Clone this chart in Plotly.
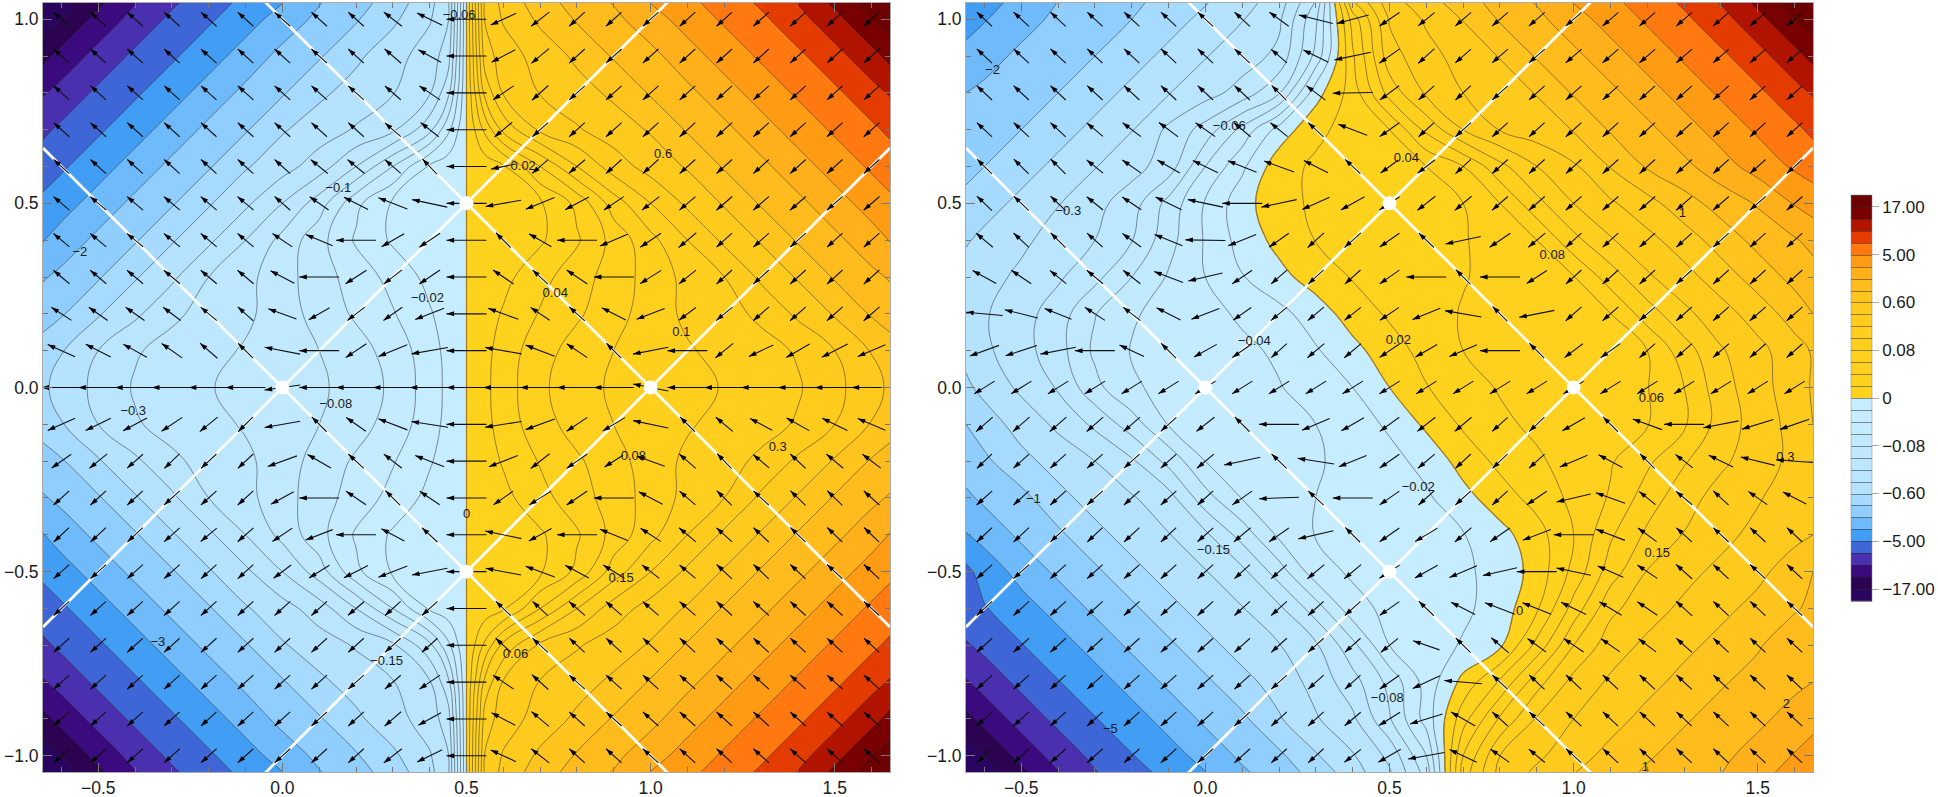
import math
import plotly.graph_objects as go

FONT = "Liberation Sans"
PX_PER_UNIT = 368.3

# ---------- contour grids: values are contour-level indices ----------
X1 = [-0.65,-0.6,-0.5,-0.4,-0.3,-0.2,-0.1,0,0.1,0.2,0.3,0.4,0.45,0.5,0.55,0.6,0.7,0.8,0.9,1.0,1.1,1.2,1.3,1.4,1.5,1.6,1.65]
X2 = [-0.65,-0.6,-0.5,-0.4,-0.3,-0.2,-0.1,0,0.1,0.2,0.3,0.4,0.5,0.6,0.7,0.8,0.9,1.0,1.1,1.2,1.3,1.4,1.5,1.6,1.65]
Y = [1.05,1.0,0.9,0.8,0.7,0.6,0.5,0.4,0.3,0.2,0.1,0,-0.1,-0.2,-0.3,-0.4,-0.5,-0.6,-0.7,-0.8,-0.9,-1.0,-1.05]

Z1 = [
[-16.95,-16.5,-15.3,-14.1,-13.2,-12.45,-11.8,-11.07,-10.1,-9.4,-8.6,-7.3,-6.25,0,6.25,7.3,8.6,9.4,10.1,11.07,11.8,12.45,13.2,14.1,15.3,16.5,16.95],
[-16.5,-16,-14.65,-13.65,-12.8,-12.15,-11.4,-10.6,-9.75,-9.1,-8.2,-7.1,-6.1,0,6.1,7.1,8.2,9.1,9.75,10.6,11.4,12.15,12.8,13.65,14.65,16,16.5],
[-15.3,-14.65,-13.65,-12.8,-12.15,-11.4,-10.6,-9.7,-9.1,-8.2,-7.4,-6.5,-5.5,0,5.5,6.5,7.4,8.2,9.1,9.7,10.6,11.4,12.15,12.8,13.65,14.65,15.3],
[-14.1,-13.65,-12.8,-12.15,-11.4,-10.6,-9.75,-9.1,-8.2,-7.6,-7.05,-6.1,-4.3,0,4.3,6.1,7.05,7.6,8.2,9.1,9.75,10.6,11.4,12.15,12.8,13.65,14.1],
[-13.2,-12.8,-12.15,-11.4,-10.6,-9.75,-9.1,-8.1,-7.5,-6.9,-6.2,-4.3,-2.25,0,2.25,4.3,6.2,6.9,7.5,8.1,9.1,9.75,10.6,11.4,12.15,12.8,13.2],
[-12.45,-12.15,-11.4,-10.6,-9.75,-9.1,-8.1,-7.4,-6.5,-5,-3,-0.85,-0.4,0,0.4,0.85,3,5,6.5,7.4,8.1,9.1,9.75,10.6,11.4,12.15,12.45],
[-11.8,-11.4,-10.6,-9.75,-9.1,-8.1,-7.2,-6,-4.5,-2.25,-0.85,-0.45,-0.2,0,0.2,0.45,0.85,2.25,4.5,6,7.2,8.1,9.1,9.75,10.6,11.4,11.8],
[-11.05,-10.6,-9.75,-9.1,-8.1,-7.2,-6,-4.7,-3.35,-1.87,-0.85,-0.43,-0.2,0,0.2,0.43,0.85,1.87,3.35,4.7,6,7.2,8.1,9.1,9.75,10.6,11.05],
[-10.1,-9.75,-9.1,-8.1,-7.2,-6,-5.3,-4.4,-3.45,-2.55,-1.67,-0.7,-0.36,0,0.36,0.7,1.67,2.55,3.45,4.4,5.3,6,7.2,8.1,9.1,9.75,10.1],
[-9.4,-9.1,-8.1,-7.2,-6.2,-5.65,-5.2,-4.5,-3.6,-2.85,-2.08,-1.1,-0.55,0,0.55,1.1,2.08,2.85,3.6,4.5,5.2,5.65,6.2,7.2,8.1,9.1,9.4],
[-8.6,-8.05,-7,-6.1,-5.65,-5.3,-4.9,-4.45,-4,-3.4,-2.6,-1.43,-0.7,0,0.7,1.43,2.6,3.4,4,4.45,4.9,5.3,5.65,6.1,7,8.05,8.6],
[-8.15,-7.7,-6.7,-5.9,-5.5,-5.05,-4.75,-4.45,-4.15,-3.6,-2.8,-1.5,-0.77,0,0.77,1.5,2.8,3.6,4.15,4.45,4.75,5.05,5.5,5.9,6.7,7.7,8.15],
[-8.6,-8.05,-7,-6.1,-5.65,-5.3,-4.9,-4.45,-4,-3.4,-2.6,-1.43,-0.7,0,0.7,1.43,2.6,3.4,4,4.45,4.9,5.3,5.65,6.1,7,8.05,8.6],
[-9.4,-9.1,-8.1,-7.2,-6.2,-5.65,-5.2,-4.5,-3.6,-2.85,-2.08,-1.1,-0.55,0,0.55,1.1,2.08,2.85,3.6,4.5,5.2,5.65,6.2,7.2,8.1,9.1,9.4],
[-10.1,-9.75,-9.1,-8.1,-7.2,-6,-5.3,-4.4,-3.45,-2.55,-1.67,-0.7,-0.36,0,0.36,0.7,1.67,2.55,3.45,4.4,5.3,6,7.2,8.1,9.1,9.75,10.1],
[-11.05,-10.6,-9.75,-9.1,-8.1,-7.2,-6,-4.7,-3.35,-1.87,-0.85,-0.43,-0.2,0,0.2,0.43,0.85,1.87,3.35,4.7,6,7.2,8.1,9.1,9.75,10.6,11.05],
[-11.8,-11.4,-10.6,-9.75,-9.1,-8.1,-7.2,-6,-4.5,-2.25,-0.85,-0.45,-0.2,0,0.2,0.45,0.85,2.25,4.5,6,7.2,8.1,9.1,9.75,10.6,11.4,11.8],
[-12.45,-12.15,-11.4,-10.6,-9.75,-9.1,-8.1,-7.4,-6.5,-5,-3,-0.85,-0.4,0,0.4,0.85,3,5,6.5,7.4,8.1,9.1,9.75,10.6,11.4,12.15,12.45],
[-13.2,-12.8,-12.15,-11.4,-10.6,-9.75,-9.1,-8.1,-7.5,-6.9,-6.2,-4.3,-2.25,0,2.25,4.3,6.2,6.9,7.5,8.1,9.1,9.75,10.6,11.4,12.15,12.8,13.2],
[-14.1,-13.65,-12.8,-12.15,-11.4,-10.6,-9.75,-9.1,-8.2,-7.6,-7.05,-6.1,-4.3,0,4.3,6.1,7.05,7.6,8.2,9.1,9.75,10.6,11.4,12.15,12.8,13.65,14.1],
[-15.3,-14.65,-13.65,-12.8,-12.15,-11.4,-10.6,-9.7,-9.1,-8.2,-7.4,-6.5,-5.5,0,5.5,6.5,7.4,8.2,9.1,9.7,10.6,11.4,12.15,12.8,13.65,14.65,15.3],
[-16.5,-16,-14.65,-13.65,-12.8,-12.15,-11.4,-10.6,-9.75,-9.1,-8.2,-7.1,-6.1,0,6.1,7.1,8.2,9.1,9.75,10.6,11.4,12.15,12.8,13.65,14.65,16,16.5],
[-16.95,-16.5,-15.3,-14.1,-13.2,-12.45,-11.8,-11.07,-10.1,-9.4,-8.6,-7.3,-6.25,0,6.25,7.3,8.6,9.4,10.1,11.07,11.8,12.45,13.2,14.1,15.3,16.5,16.95],
]

Z2 = [
[-11.8,-11.4,-10.7,-10,-9.6,-9.2,-8.7,-8.1,-7.4,-6.55,-4,4,6.65,7.6,8.6,9.4,10.1,11.07,11.8,12.45,13.2,14.1,15.3,16.5,16.95],
[-11.4,-11.07,-10.35,-9.8,-9.4,-9,-8.4,-7.75,-7.05,-6.2,-3.2,2.45,6.1,7.15,8.05,9.1,9.75,10.6,11.4,12.15,12.8,13.65,14.65,16,16.5],
[-10.7,-10.35,-9.8,-9.4,-9,-8.4,-7.75,-7.05,-6.5,-5.75,-2.7,1.85,5.6,6.65,7.4,8.05,9.1,9.75,10.6,11.4,12.15,12.8,13.65,14.65,15.3],
[-10,-9.8,-9.4,-9,-8.4,-7.75,-7.05,-6.4,-5.6,-4.1,-0.4,1.45,4.4,6.15,7,7.5,8.05,9.1,9.75,10.6,11.4,12.15,12.8,13.65,14.1],
[-9.6,-9.4,-9,-8.4,-7.75,-7.05,-5.8,-4.6,-2.7,-0.6,0.75,1.4,2,4.25,6,7.05,7.55,8.05,9.1,9.75,10.6,11.4,12.15,12.8,13.2],
[-9.3,-9,-8.4,-7.75,-7.05,-6.35,-5.55,-3,-1.2,0.6,1.18,1.45,1.7,2,3,4.7,6,6.85,8.05,9.1,9.75,10.6,11.4,12.15,12.45],
[-8.7,-8.4,-7.75,-7.05,-6.3,-5.5,-3.65,-1.9,-0.4,0.7,1.15,1.35,1.57,1.8,2,3,4.7,6,6.85,7.65,8.6,9.4,10.1,11.07,11.45],
[-8.1,-7.75,-7.2,-6.6,-6,-5.05,-3.35,-1.9,-0.6,0.3,1.03,1.26,1.48,1.7,1.93,2.4,3,4.7,5.9,6.7,7.5,8.45,9.3,9.9,10.3],
[-7.6,-7.35,-6.8,-6.15,-5.3,-4,-2.9,-2,-1.05,-0.3,0.45,1.07,1.36,1.65,1.95,2.25,2.6,2.95,4.5,5.85,6.65,7.5,8.45,9.3,9.6],
[-7.6,-7.1,-6.4,-5.5,-4.05,-3.1,-2.7,-2.3,-1.85,-1.3,-0.5,0.45,1.15,1.65,2.06,2.3,2.5,2.75,2.98,4.5,5.75,6.6,7.45,8.45,9],
[-7.7,-7.2,-6.4,-5.4,-3.8,-2.95,-2.7,-2.45,-2.2,-1.85,-1.1,-0.3,0.55,1.35,2,2.2,2.4,2.6,2.8,3,4.55,5.9,6.7,7.6,8.1],
[-8.2,-7.7,-6.8,-5.9,-4.3,-3.1,-2.8,-2.55,-2.3,-2.05,-1.6,-1,0,0.95,1.6,2.08,2.3,2.5,2.75,2.96,4,5.6,6.6,7.55,8.1],
[-9,-8.5,-7.6,-6.8,-5.8,-4.5,-2.95,-2.7,-2.5,-2.25,-2,-1.45,-0.85,0.2,1.15,1.8,2.2,2.45,2.7,2.95,3.85,5.45,6.45,7.35,8],
[-9.5,-9.2,-8.3,-7.6,-7,-6.15,-4.7,-3,-2.7,-2.4,-2.1,-1.7,-1.3,-0.7,0.4,1.25,1.85,2.4,2.9,3.8,4.9,5.8,6.55,7.25,7.6],
[-10.2,-9.8,-9.3,-8.3,-7.6,-7.1,-6.4,-4.4,-2.95,-2.45,-2,-1.7,-1.4,-1.15,-0.35,0.55,1.35,2.25,3.1,4.5,5.6,6.4,6.9,7.6,8],
[-11.07,-10.65,-9.8,-9.2,-8.3,-7.6,-7.05,-6.2,-4.6,-2.8,-1.95,-1.7,-1.5,-1.25,-1.05,-0.35,0.6,2,3.85,5.2,6.05,6.7,7.3,7.75,8],
[-12.25,-11.6,-10.65,-9.8,-9.2,-8.3,-7.6,-7.05,-6.25,-4.5,-2.4,-1.85,-1.6,-1.4,-1.15,-0.7,0.4,2.3,4.5,6.05,6.7,7.25,7.75,8.5,9],
[-12.4,-12.07,-11.4,-10.65,-9.8,-9.2,-8.3,-7.6,-7.05,-6.2,-4.5,-2.35,-1.75,-1.5,-1.2,-0.55,0.85,3.4,5.75,6.6,7.2,7.75,8.3,8.9,9.2],
[-13.1,-12.75,-12.05,-11.4,-10.65,-9.8,-9.2,-8.3,-7.6,-7.05,-6.15,-4.3,-2,-1.5,-0.9,-0.2,2.3,5,6.55,7.2,7.75,8.3,8.9,9.6,10],
[-14.1,-13.6,-12.75,-12.05,-11.4,-10.65,-9.8,-9.2,-8.3,-7.6,-6.65,-5.4,-3.7,-1.6,0.3,2.15,4.6,6.35,7.15,7.7,8.3,8.9,9.35,9.8,10],
[-15.3,-14.65,-13.6,-12.75,-12.05,-11.4,-10.65,-9.8,-9.2,-8.1,-7.1,-6.2,-4.1,-1.6,1.6,4.15,6.1,7,7.65,8.3,8.9,9.35,9.8,10.35,10.7],
[-16.5,-16,-14.65,-13.6,-12.75,-12.05,-11.4,-10.65,-9.8,-9.2,-8.1,-7.1,-5.75,-3,3,6,6.8,7.6,8.3,8.9,9.35,9.8,10.35,11.07,11.4],
[-16.95,-16.5,-15.3,-14.1,-13.1,-12.4,-11.75,-11.07,-10.2,-9.5,-8.7,-7.5,-6.15,-3.65,3.5,6.35,7.25,8,8.6,9.15,9.55,10,10.7,11.4,11.7],
]

# ---------- vector field: direction (degrees) and length (pixels) read per row ----------
AX = [-0.6,-0.5,-0.4,-0.3,-0.2,-0.1,0,0.1,0.2,0.3,0.4,0.5,0.6,0.7,0.8,0.9,1.0,1.1,1.2,1.3,1.4,1.5,1.6]
AY = [1.0,0.9,0.8,0.7,0.6,0.5,0.4,0.3,0.2,0.1,0,-0.1,-0.2,-0.3,-0.4,-0.5,-0.6,-0.7,-0.8,-0.9,-1.0]

ANG1 = [
[138,138,138,138,138,138,138,138,138,142,154,180,205,218,222,222,222,222,222,222,222,222,222],
[138,138,138,138,138,138,138,138,138,139,151,180,208,220,222,222,222,222,222,222,222,222,222],
[138,138,138,138,138,138,138,138,138,139,146,180,214,222,222,222,222,222,222,222,222,222,222],
[138,138,138,138,138,138,138,138,138,139,142,180,220,222,222,222,222,222,222,222,222,222,222],
[138,138,138,138,138,138,138,141,141,139,134,180,192,221,220,222,222,222,222,222,222,222,222],
[140,140,140,140,140,140,139,145,153,159,168,180,190,202,208,214,218,220,221,221,221,221,221],
[140,140,140,140,140,140,146,157,180,210,214,180,135,150,180,203,214,220,222,222,222,222,222],
[140,140,140,140,140,140,152,180,213,218,214,180,146,137,146,180,212,219,222,222,222,222,222],
[147,145,145,143,140,138,160,210,218,215,201,180,160,146,138,153,201,217,220,221,221,221,221],
[156,153,151,145,139,135,169,180,214,202,190,180,170,159,146,135,191,180,219,205,210,207,203],
[180,180,180,180,180,180,188,180,180,180,180,180,180,180,180,180,169,180,180,180,180,180,180],
[204,206,208,214,219,225,190,135,145,159,171,180,189,200,214,211,168,135,140,152,151,154,157],
[215,219,221,224,223,223,200,150,137,142,159,180,201,218,215,212,160,139,134,140,137,140,143],
[222,222,222,222,222,222,209,180,146,135,146,180,215,212,214,180,152,139,136,137,136,136,138],
[223,223,223,222,220,221,214,201,180,152,137,180,168,209,180,158,147,140,138,137,136,136,136],
[222,222,222,222,222,222,217,212,207,201,191,180,169,160,152,148,142,140,137,137,137,137,137],
[222,222,222,222,222,222,222,222,220,222,222,180,136,137,139,139,139,139,138,138,138,138,138],
[222,222,222,222,222,222,222,222,222,222,222,180,137,137,137,137,137,137,137,137,137,137,137],
[222,222,222,222,222,222,222,222,222,221,214,180,146,138,138,138,138,138,138,138,138,138,138],
[222,222,222,222,222,222,222,222,222,221,209,180,152,140,138,138,138,138,138,138,138,138,138],
[222,222,222,222,222,222,222,222,222,218,206,180,155,142,138,138,138,138,138,138,138,138,138],
]
LEN1 = [
[21,21,21,21,21,21,21,21,21,23,28,40,28,23,21,21,21,21,21,21,21,21,21],
[21,21,21,21,21,21,21,21,21,22,26,40,27,23,21,21,21,21,21,21,21,21,21],
[21,21,21,21,21,21,21,21,21,21,25,40,25,22,21,21,21,21,21,21,21,21,21],
[21,21,21,21,21,21,21,21,21,21,23,40,23,21,21,21,21,21,21,21,21,21,21],
[21,21,21,21,21,21,21,22,22,21,21,40,25,21,21,21,21,21,21,21,21,21,21],
[21,21,21,21,21,21,21,23,27,31,36,40,36,31,27,24,22,21,21,21,21,21,21],
[21,21,21,21,21,21,24,29,40,26,25,40,21,26,40,30,25,23,21,21,21,21,21],
[21,21,21,21,21,21,27,40,25,23,25,40,25,21,25,40,25,22,21,21,21,21,21],
[24,23,23,22,21,21,30,24,22,23,31,40,32,23,21,27,30,21,21,21,21,21,21],
[30,28,27,25,23,21,36,40,25,31,37,40,37,31,25,21,36,40,23,27,27,29,30],
[40,40,40,40,40,40,36,40,40,40,40,40,40,40,40,40,36,40,40,40,40,40,40],
[30,28,27,25,23,21,36,21,24,31,37,40,37,31,25,26,36,21,22,25,26,28,30],
[24,23,21,21,21,21,31,27,21,23,31,40,31,24,25,22,30,22,21,21,21,22,23],
[21,21,21,21,21,21,26,40,24,21,24,40,24,26,25,40,27,21,21,21,21,21,21],
[21,21,21,21,21,21,24,29,40,26,21,40,37,26,40,30,24,22,21,21,21,21,21],
[21,21,21,21,21,21,22,24,27,31,36,40,36,31,27,25,22,21,21,21,21,21,21],
[21,21,21,21,21,21,21,21,21,21,21,40,21,21,21,21,21,21,21,21,21,21,21],
[21,21,21,21,21,21,21,21,21,21,21,40,21,21,21,21,21,21,21,21,21,21,21],
[21,21,21,21,21,21,21,21,21,21,25,40,25,22,21,21,21,21,21,21,21,21,21],
[21,21,21,21,21,21,21,21,21,22,26,40,27,23,21,21,21,21,21,21,21,21,21],
[21,21,21,21,21,21,21,21,21,23,28,40,28,23,21,21,21,21,21,21,21,21,21],
]
ANG2 = [
[137,137,137,137,137,137,137,137,144,166,195,214,219,221,221,221,221,221,221,221,221,221,221],
[137,137,137,137,137,137,137,137,139,154,192,215,222,221,221,221,221,221,221,221,221,221,221],
[137,137,137,137,137,137,137,137,135,143,181,216,222,223,222,222,222,222,222,222,222,222,222],
[137,137,137,140,143,143,145,140,141,137,159,215,222,222,222,222,222,222,222,222,222,222,222],
[135,135,135,141,145,150,154,158,160,153,137,216,218,223,222,222,222,222,222,222,222,222,222],
[136,136,136,141,146,154,168,180,192,204,209,213,218,220,221,221,221,221,221,221,221,221,221],
[140,137,135,138,144,158,179,202,215,222,222,215,136,192,214,220,222,222,222,222,222,222,222],
[151,146,141,140,142,159,193,214,221,223,222,215,180,135,180,213,222,222,222,222,222,222,222],
[175,166,158,147,142,153,201,215,220,220,218,214,202,170,135,191,221,221,221,221,221,221,221],
[200,198,191,180,155,135,209,215,222,220,220,214,210,203,180,135,217,216,222,222,221,221,221],
[212,212,212,212,212,212,212,212,212,212,212,212,212,212,212,212,212,212,212,212,212,212,212],
[221,221,221,221,221,222,218,135,180,203,210,216,218,220,222,224,210,135,160,180,191,197,199],
[224,222,222,222,222,222,220,192,136,171,202,215,220,223,224,222,203,152,135,142,154,166,176],
[222,222,222,222,222,222,222,215,182,137,180,215,222,222,222,214,193,160,141,140,137,145,153],
[223,223,223,223,223,223,221,220,215,193,135,215,211,221,215,201,180,159,144,138,137,137,137],
[222,222,222,222,222,222,222,222,222,220,220,213,209,203,193,180,168,156,146,138,137,137,137],
[222,222,222,222,222,222,222,222,222,222,222,215,136,153,159,158,154,149,146,138,137,137,137],
[222,222,222,222,222,222,222,222,222,222,222,219,161,135,139,144,146,145,143,138,137,137,137],
[222,222,222,222,222,222,222,222,222,222,222,215,205,175,137,137,137,137,137,137,137,137,137],
[222,222,222,222,222,222,222,222,222,222,220,212,197,150,138,137,137,137,137,137,137,137,137],
[222,222,222,222,222,222,222,222,222,222,218,210,190,155,145,140,137,137,137,137,137,137,137],
]
LEN2 = [
[21,21,21,21,21,21,21,21,24,35,33,24,21,21,21,21,21,21,21,21,21,21,21],
[21,21,21,21,21,21,21,21,21,28,37,25,22,21,21,21,21,21,21,21,21,21,21],
[21,21,21,21,21,21,21,21,21,24,40,24,21,21,21,21,21,21,21,21,21,21,21],
[21,21,21,21,23,24,24,22,22,21,31,24,21,21,21,21,21,21,21,21,21,21,21],
[21,21,21,21,23,26,28,31,32,27,21,22,22,21,21,21,21,21,21,21,21,21,21],
[21,21,21,21,23,29,36,40,36,30,27,24,23,22,21,21,21,21,21,21,21,21,21],
[22,21,21,21,23,30,40,30,24,22,22,24,21,36,25,22,21,21,21,21,21,21,21],
[27,24,21,21,22,31,35,24,21,21,21,24,40,21,40,24,21,21,21,21,21,21,21],
[37,34,29,24,22,27,30,22,21,21,21,23,30,37,21,36,21,21,21,21,21,21,21],
[31,33,36,40,27,21,26,24,21,22,22,24,25,30,40,21,23,24,21,21,21,21,21],
[24,24,24,24,24,24,24,24,24,24,24,24,24,24,24,24,24,24,24,24,24,24,24],
[22,22,22,22,22,21,23,21,40,30,26,24,23,22,21,21,26,21,31,40,36,33,31],
[21,21,21,21,21,21,22,37,21,37,30,24,22,21,21,21,30,27,21,22,27,35,37],
[21,21,21,21,21,21,21,24,40,21,40,24,21,21,21,24,35,31,21,21,21,23,26],
[21,21,21,21,21,21,21,22,24,36,21,24,26,22,24,30,40,31,23,21,21,21,21],
[21,21,21,21,21,21,21,21,21,22,22,24,26,30,35,40,35,28,24,22,21,21,21],
[21,21,21,21,21,21,21,21,21,21,21,24,21,27,32,31,28,26,24,22,21,21,21],
[21,21,21,21,21,21,21,21,21,21,21,22,28,21,23,23,24,23,22,21,21,21,21],
[21,21,21,21,21,21,21,21,21,21,21,24,30,38,21,21,21,21,21,21,21,21,21],
[21,21,21,21,21,21,21,21,21,21,21,25,34,28,21,21,21,21,21,21,21,21,21],
[21,21,21,21,21,21,21,21,21,21,21,26,37,30,23,21,21,21,21,21,21,21,21],
]

# ---------- contour labels ----------
LAB1_T = ["−0.06","−0.1","−0.02","0.02","0.04","0.6","0.1","−2","−0.08","−0.3","0.08","0.3","0","0.15","−3","0.06","−0.15"]
LAB1_X = [0.48,0.152,0.394,0.654,0.741,1.034,1.083,-0.55,0.145,-0.405,0.953,1.345,0.5,0.92,-0.338,0.633,0.283]
LAB1_Y = [1.01,0.54,0.242,0.60,0.255,0.633,0.15,0.367,-0.046,-0.067,-0.187,-0.163,-0.345,-0.52,-0.693,-0.725,-0.745]
LAB2_T = ["−2","−0.3","−0.06","0.04","0.08","1","−0.04","0.02","0.06","0.3","−0.02","−1","−0.15","0.15","0","−0.08","−5","2","1"]
LAB2_X = [-0.578,-0.372,0.065,0.546,0.942,1.295,0.133,0.524,1.211,1.575,0.578,-0.467,0.022,1.227,0.853,0.494,-0.258,1.578,1.195]
LAB2_Y = [0.859,0.478,0.707,0.622,0.359,0.473,0.125,0.128,-0.03,-0.19,-0.272,-0.304,-0.443,-0.451,-0.609,-0.845,-0.93,-0.861,-1.032]

# ---------- white diamond lines and nodes ----------
LINE_X = [[-0.65,1.05],[-0.65,1.05],[-0.05,1.65],[-0.05,1.65]]
LINE_Y = [[-0.65,1.05],[0.65,-1.05],[-1.05,0.65],[1.05,-0.65]]
DOT_X = [0,0.5,1,0.5]
DOT_Y = [0,0.5,0,-0.5]

# ---------- colour bands from -17 to +17 ----------
BANDS = ["#2a0560","#2b0350","#3a0a7e","#4a2fae","#3f66d6","#429ef5","#6fbafb","#8fceff","#a6dbff","#b4e2ff",
         "#b9e5ff","#bde7ff","#c0e8ff","#c2eaff","#c4ebff","#c5ecff","#c6ecff",
         "#ffd21e","#ffd21e","#ffd11e","#ffd01e","#ffcf1e","#ffce1e","#ffcc1e","#ffca1e","#ffc41d","#ffbc1c",
         "#ffb01a","#ff9c14","#ff7810","#e43c00","#b01400","#780000","#6c0000"]
CB_TICKV = [-16,-12,-8,-4,0,4,8,12,16]
CB_TICKT = ["−17.00","−5.00","−0.60","−0.08","0","0.08","0.60","5.00","17.00"]

colorscale = []
for i, c in enumerate(BANDS):
    lo = 0 if i == 0 else (i + 0.5) / 35
    hi = 1 if i == len(BANDS) - 1 else (i + 1.5) / 35
    colorscale += [[lo, c], [hi, c]]

fig = go.Figure()

def panel(xs, zs, ang, lens, lt, lx, ly, xa, ya, showscale):
    assert all(len(r) == len(xs) for r in zs) and len(zs) == len(Y)
    assert len(ang) == len(AY) and all(len(r) == len(AX) for r in ang)
    assert len(lens) == len(AY) and all(len(r) == len(AX) for r in lens)
    fig.add_trace(go.Contour(
        x=xs, y=Y, z=zs, xaxis=xa, yaxis=ya, zmin=-17, zmax=17, autocontour=False,
        contours=dict(start=-17, end=17, size=1, coloring="fill", showlines=True),
        colorscale=colorscale, line=dict(color="rgba(40,40,40,0.5)", width=1, smoothing=1.15),
        showscale=showscale, hoverinfo="skip",
        colorbar=dict(x=1851/1938, xanchor="left", xpad=0, y=(797-398)/797, yanchor="middle", ypad=0,
                      lenmode="pixels", len=406, thickness=21, thicknessmode="pixels",
                      tickmode="array", tickvals=CB_TICKV, ticktext=CB_TICKT, ticks="outside",
                      ticklen=7, tickcolor="#aaaaaa", outlinecolor="#888888", outlinewidth=0.5,
                      tickfont=dict(family=FONT, size=17, color="#1a1a1a"))))
    # the zero level is drawn in a brown line over the bands
    fig.add_trace(go.Contour(
        x=xs, y=Y, z=zs, xaxis=xa, yaxis=ya, autocontour=False,
        contours=dict(start=0, end=0, size=1, coloring="none", showlines=True),
        line=dict(color="#a67c14", width=1.2, smoothing=1.15), showscale=False, hoverinfo="skip"))
    for lxs, lys in zip(LINE_X, LINE_Y):
        fig.add_trace(go.Scatter(x=lxs, y=lys, xaxis=xa, yaxis=ya, mode="lines",
                                 line=dict(color="white", width=2.8), hoverinfo="skip", showlegend=False))
    sx, sy, hx, hy, ha = [], [], [], [], []
    for j, yc in enumerate(AY):
        for i, xc in enumerate(AX):
            a = math.radians(ang[j][i])
            dx = lens[j][i] * math.cos(a) / PX_PER_UNIT / 2
            dy = lens[j][i] * math.sin(a) / PX_PER_UNIT / 2
            sx += [xc - dx, xc + dx, None]
            sy += [yc - dy, yc + dy, None]
            hx.append(xc + dx)
            hy.append(yc + dy)
            ha.append(90 - ang[j][i])
    fig.add_trace(go.Scatter(x=sx, y=sy, xaxis=xa, yaxis=ya, mode="lines",
                             line=dict(color="#111111", width=1.1), hoverinfo="skip", showlegend=False))
    fig.add_trace(go.Scatter(x=hx, y=hy, xaxis=xa, yaxis=ya, mode="markers",
                             marker=dict(symbol="arrow", size=8, angle=ha, color="#000000", line=dict(width=0)),
                             hoverinfo="skip", showlegend=False))
    fig.add_trace(go.Scatter(x=DOT_X, y=DOT_Y, xaxis=xa, yaxis=ya, mode="markers",
                             marker=dict(symbol="circle", color="white", size=14, line=dict(width=0)),
                             hoverinfo="skip", showlegend=False))
    fig.add_trace(go.Scatter(x=lx, y=ly, text=lt, xaxis=xa, yaxis=ya, mode="text",
                             textfont=dict(family=FONT, size=13, color="#1a1a1a"),
                             hoverinfo="skip", showlegend=False))

panel(X1, Z1, ANG1, LEN1, LAB1_T, LAB1_X, LAB1_Y, "x", "y", False)
panel(X2, Z2, ANG2, LEN2, LAB2_T, LAB2_X, LAB2_Y, "x2", "y2", True)

def xaxis(domain, anchor):
    return dict(domain=domain, anchor=anchor, range=[-0.65, 1.65], tickvals=[-0.5, 0, 0.5, 1.0, 1.5],
                tickformat=".1f", ticks="inside", ticklen=9, tickcolor="#777777", tickwidth=1,
                showline=True, linecolor="#aaaaaa", linewidth=1, mirror="ticks", showgrid=False, zeroline=False,
                minor=dict(dtick=0.1, tick0=0, ticks="inside", ticklen=5, tickcolor="#777777", showgrid=False),
                tickfont=dict(family=FONT, size=17.5, color="#1a1a1a"))

def yaxis(anchor):
    return dict(domain=[1-772/797, 1-3/797], anchor=anchor, range=[-1.044, 1.044], tickvals=[-1.0, -0.5, 0, 0.5, 1.0],
                tickformat=".1f", ticks="inside", ticklen=9, tickcolor="#777777", tickwidth=1,
                showline=True, linecolor="#aaaaaa", linewidth=1, mirror="ticks", showgrid=False, zeroline=False,
                minor=dict(dtick=0.1, tick0=0, ticks="inside", ticklen=5, tickcolor="#777777", showgrid=False),
                tickfont=dict(family=FONT, size=17.5, color="#1a1a1a"))

fig.update_layout(
    width=1938, height=797, margin=dict(l=0, r=0, t=0, b=0), autosize=False,
    paper_bgcolor="white", plot_bgcolor="white", showlegend=False,
    xaxis=xaxis([43/1938, 890/1938], "y"), yaxis=yaxis("x"),
    xaxis2=xaxis([966/1938, 1813/1938], "y2"), yaxis2=yaxis("x2"),
)

fig.write_html("out.html", config={"displayModeBar": False}, post_script="document.body.style.margin='0';")
